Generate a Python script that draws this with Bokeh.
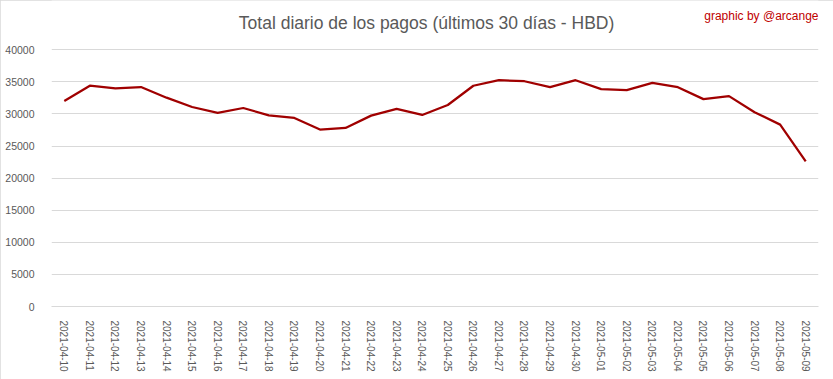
from bokeh.plotting import figure
from bokeh.models import Range1d, Label, FactorRange
from bokeh.embed import file_html
from bokeh.resources import INLINE

dates = ["2021-04-10", "2021-04-11", "2021-04-12", "2021-04-13", "2021-04-14",
         "2021-04-15", "2021-04-16", "2021-04-17", "2021-04-18", "2021-04-19",
         "2021-04-20", "2021-04-21", "2021-04-22", "2021-04-23", "2021-04-24",
         "2021-04-25", "2021-04-26", "2021-04-27", "2021-04-28", "2021-04-29",
         "2021-04-30", "2021-05-01", "2021-05-02", "2021-05-03", "2021-05-04",
         "2021-05-05", "2021-05-06", "2021-05-07", "2021-05-08", "2021-05-09"]
payouts = [32020, 34400, 34000, 34190, 32540, 31090, 30160, 30930, 29790, 29380,
           27570, 27830, 29740, 30780, 29850, 31400, 34400, 35260, 35100, 34170,
           35260, 33880, 33720, 34850, 34170, 32310, 32780, 30260, 28340, 22600]
y_ticks = [0, 5000, 10000, 15000, 20000, 25000, 30000, 35000, 40000]

TEXT_FONT = "Liberation Sans"
GRAY = "#595959"

# frame reaches the top of the canvas so the title labels live inside it
p = figure(width=833, height=379, x_range=FactorRange(*dates, range_padding=0),
           y_range=Range1d(0, 47680), output_backend="svg", toolbar_location=None,
           min_border_left=51, min_border_right=15, min_border_top=0, min_border_bottom=73)
p.outline_line_color = None
p.background_fill_color = "white"
p.border_fill_color = "white"
p.styles = {"outline": "1px solid #d9d9d9", "outline-offset": "-1px"}

p.line(dates, payouts, line_color="#a00000", line_width=2.25)

p.yaxis.ticker = y_ticks
p.yaxis.axis_line_color = None
p.yaxis.major_tick_line_color = None
p.yaxis.minor_tick_line_color = None
p.yaxis.major_label_standoff = 11
p.yaxis.major_label_text_font = TEXT_FONT
p.yaxis.major_label_text_font_size = "10.5px"
p.yaxis.major_label_text_color = GRAY

p.xaxis.axis_line_color = "#d9d9d9"
p.xaxis.major_tick_line_color = None
p.xaxis.minor_tick_line_color = None
p.xaxis.major_label_orientation = "vertical"
p.xaxis.major_label_standoff = 8
p.xaxis.major_label_text_font = TEXT_FONT
p.xaxis.major_label_text_font_size = "10px"
p.xaxis.major_label_text_color = GRAY

p.xgrid.grid_line_color = None
p.ygrid.grid_line_color = "#d9d9d9"
p.ygrid.grid_line_width = 1

title = Label(x=14.67, y=44250, text="Total diario de los pagos (últimos 30 días - HBD)",
              text_align="center", text_baseline="middle",
              text_font=TEXT_FONT, text_font_size="17.5px", text_color=GRAY)
p.add_layout(title)

credit = Label(x=30, y=45330, text="graphic by @arcange",
               text_align="right", text_baseline="middle",
               text_font=TEXT_FONT, text_font_size="12px", text_color="#c00000")
p.add_layout(credit)

open("out.html", "w").write(file_html(p, INLINE))
